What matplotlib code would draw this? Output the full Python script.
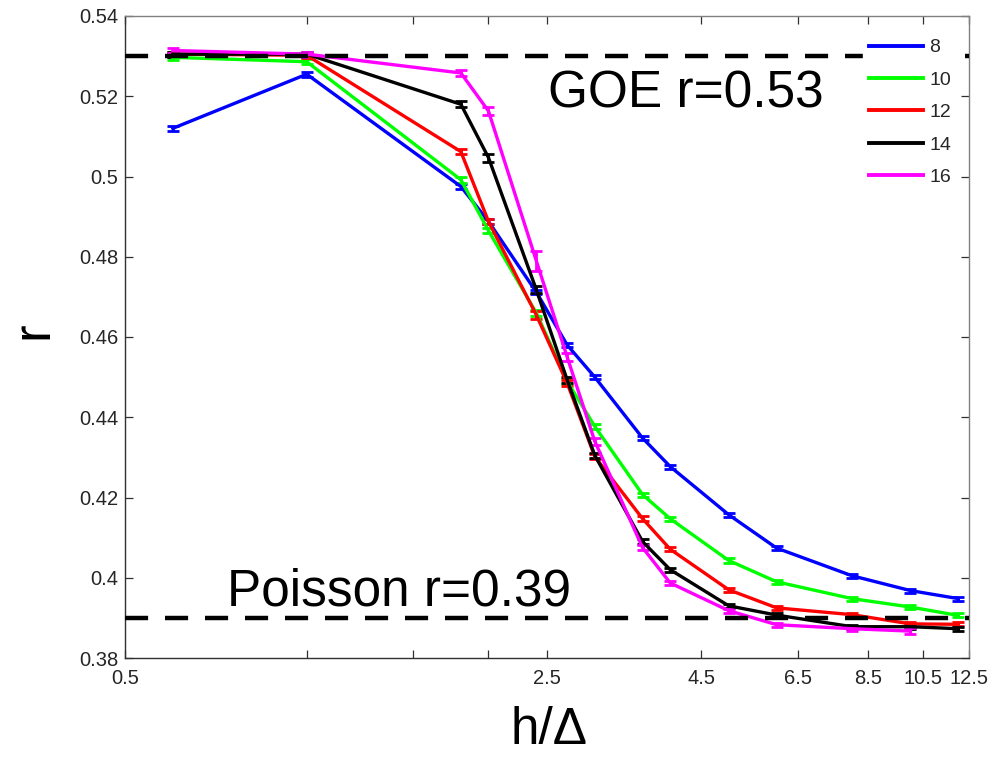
import matplotlib
matplotlib.use("Agg")
import matplotlib.pyplot as plt
from matplotlib.lines import Line2D

plt.rcParams['font.family'] = ['Liberation Sans', 'DejaVu Sans']

# ---- data ----
h = [0.6, 1.0, 1.8, 2.0, 2.4, 2.7, 3.0, 3.6, 4.0, 5.0, 6.0, 8.0, 10.0, 12.0]
h16 = [0.6, 1.0, 1.8, 2.0, 2.4, 2.7, 3.0, 3.6, 4.0, 5.0, 6.0, 8.0, 10.0]

r8 = [0.5120, 0.5255, 0.4975, 0.4888, 0.4712, 0.4580, 0.4500, 0.4348, 0.4277,
      0.4157, 0.4074, 0.4005, 0.3968, 0.3948]
r10 = [0.5297, 0.5286, 0.4992, 0.4865, 0.4660, 0.4490, 0.4377, 0.4207, 0.4147,
       0.4043, 0.3990, 0.3948, 0.3927, 0.3906]
r12 = [0.5305, 0.5302, 0.5062, 0.4888, 0.4655, 0.4485, 0.4302, 0.4147, 0.4071,
       0.3970, 0.3925, 0.3908, 0.3885, 0.3884]
r14 = [0.5305, 0.5305, 0.5180, 0.5047, 0.4718, 0.4493, 0.4305, 0.4090, 0.4020,
       0.3930, 0.3907, 0.3878, 0.3878, 0.3873]
r16 = [0.5314, 0.5305, 0.5258, 0.5163, 0.4790, 0.4550, 0.4340, 0.4075, 0.3987,
       0.3918, 0.3883, 0.3873, 0.3867]

e8 = [0.0006, 0.0006, 0.0006, 0.0006, 0.0006, 0.0006, 0.0005, 0.0005, 0.0005,
      0.0005, 0.0005, 0.0005, 0.0005, 0.0005]
e10 = [0.0006, 0.0006, 0.0007, 0.0007, 0.0007, 0.0006, 0.0006, 0.0005, 0.0005,
       0.0005, 0.0005, 0.0005, 0.0005, 0.0005]
e12 = [0.0006, 0.0006, 0.0007, 0.0007, 0.0009, 0.0007, 0.0006, 0.0006, 0.0005,
       0.0005, 0.0005, 0.0005, 0.0005, 0.0005]
e14 = [0.0006, 0.0006, 0.0008, 0.0010, 0.0008, 0.0007, 0.0006, 0.0006, 0.0005,
       0.0005, 0.0005, 0.0005, 0.0005, 0.0005]
e16 = [0.0006, 0.0006, 0.0007, 0.0009, 0.0025, 0.0010, 0.0008, 0.0007, 0.0006,
       0.0005, 0.0005, 0.0005, 0.0008]

labels = ['8', '10', '12', '14', '16']
colors = ['#0000ff', '#00ff00', '#ff0000', '#000000', '#ff00ff']

xticks = [0.5, 1.0, 1.5, 2.0, 2.5, 4.5, 6.5, 8.5, 10.5, 12.5]
xticklabels = ['0.5', '', '', '', '2.5', '4.5', '6.5', '8.5', '10.5', '12.5']
yticks = [0.38, 0.40, 0.42, 0.44, 0.46, 0.48, 0.50, 0.52, 0.54]
yticklabels = ['0.38', '0.4', '0.42', '0.44', '0.46', '0.48', '0.5', '0.52', '0.54']

goe = 0.53
poisson = 0.39

# ---- figure ----
fig = plt.figure(figsize=(10.07, 7.57), dpi=100)
ax = fig.add_axes([125/1007, 1-658/757, (969-125)/1007, (658-16)/757])

xs = [h, h, h, h, h16]
ys = [r8, r10, r12, r14, r16]
es = [e8, e10, e12, e14, e16]
handles = []
for x, y, e, c, lab in zip(xs, ys, es, colors, labels):
    ax.errorbar(x, y, yerr=e, color=c, lw=2.4, elinewidth=2.0, capsize=4.5,
                capthick=2.0, zorder=3)
    handles.append(Line2D([], [], color=c, lw=2.8, label=lab))

dash = (0, (5.2, 3.8))
ax.axhline(goe, color='black', lw=3.2, ls=dash, zorder=4)
ax.axhline(poisson, color='black', lw=3.2, ls=dash, zorder=4)

ax.set_xscale('log')
ax.set_xlim(0.5, 12.5)
ax.set_ylim(0.38, 0.54)
ax.set_xticks(xticks)
ax.set_xticklabels(xticklabels)
ax.xaxis.set_minor_locator(matplotlib.ticker.NullLocator())
ax.set_yticks(yticks)
ax.set_yticklabels(yticklabels)

ax.tick_params(axis='both', which='both', direction='in', length=6, width=0.9,
               top=True, right=True, labelsize=14.5, labelcolor='#262626',
               color='#303030')
ax.tick_params(axis='x', pad=8)
ax.tick_params(axis='y', pad=5)
for s in ['left', 'bottom']:
    ax.spines[s].set_color('#303030')
for s in ['top', 'right']:
    ax.spines[s].set_color('#808080')
for s in ax.spines.values():
    s.set_linewidth(1.0)

ax.text(548/1007, 1-107/757, 'GOE r=0.53', transform=fig.transFigure,
        fontsize=37, ha='left', va='baseline', color='black')
ax.text(227/1007, 1-605/757, 'Poisson r=0.39', transform=fig.transFigure,
        fontsize=37, ha='left', va='baseline', color='black')

fig.text(549/1007, 1-744/757, 'h/Δ', fontsize=37, ha='center', va='baseline')
fig.text(33/1007, 1-330/757, 'r', fontsize=38, ha='center', va='center',
         rotation=90)

leg = ax.legend(handles=handles, loc='upper right',
                bbox_to_anchor=(957/1007, 1-33/757), bbox_transform=fig.transFigure,
                fontsize=14, frameon=True, facecolor='white', edgecolor='white',
                framealpha=1.0, fancybox=False, handlelength=2.8,
                handletextpad=0.3, labelspacing=0.76, borderpad=0.3,
                borderaxespad=0.0)
for t in leg.get_texts():
    t.set_color('#262626')
leg.set_zorder(6)

fig.savefig('out.png', dpi=100)
